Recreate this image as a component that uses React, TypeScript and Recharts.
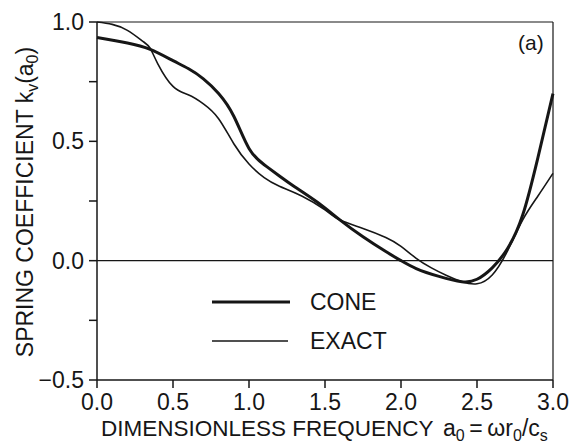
import React from "react";
import { LineChart, Line, XAxis, YAxis, ReferenceLine, Legend } from "recharts";

// dimensionless frequency a0 and spring coefficient kv
const coneFreq = [0, 0.2, 0.35, 0.5, 0.6, 0.7, 0.8, 0.9, 1.0, 1.1, 1.2, 1.3, 1.45, 1.6, 1.75, 1.9, 2.0, 2.1, 2.25, 2.4, 2.5, 2.6, 2.7, 2.8, 2.9, 3.0];
const coneK = [0.935, 0.912, 0.885, 0.838, 0.805, 0.762, 0.7, 0.605, 0.47, 0.402, 0.355, 0.31, 0.245, 0.17, 0.1, 0.038, 0.0, -0.033, -0.066, -0.088, -0.078, -0.03, 0.05, 0.19, 0.43, 0.7];

const exactFreq = [0, 0.1, 0.2, 0.3, 0.35, 0.4, 0.5, 0.6, 0.7, 0.8, 0.9, 1.0, 1.1, 1.2, 1.35, 1.5, 1.6, 1.75, 1.9, 2.0, 2.1, 2.2, 2.3, 2.4, 2.5, 2.6, 2.7, 2.8, 2.9, 3.0];
const exactK = [1.0, 0.99, 0.965, 0.92, 0.89, 0.825, 0.73, 0.695, 0.657, 0.595, 0.49, 0.405, 0.348, 0.312, 0.27, 0.213, 0.17, 0.135, 0.097, 0.06, 0.01, -0.03, -0.062, -0.088, -0.097, -0.06, 0.04, 0.17, 0.27, 0.366];

const xTicks = [0, 0.5, 1, 1.5, 2, 2.5, 3];
const yTicks = [-0.5, -0.25, 0, 0.25, 0.5, 0.75, 1];

const seriesNames = ["CONE", "EXACT"];

const coneData = coneFreq.map((a, i) => ({ a, k: coneK[i] }));
const exactData = exactFreq.map((a, i) => ({ a, k: exactK[i] }));

const FONT = "'Liberation Sans', Arial, Helvetica, sans-serif";
const INK = "#161616";

const fmt = (v: number) => {
  if (Math.abs(v * 2 - Math.round(v * 2)) > 1e-6) return "";
  const s = Math.abs(v).toFixed(1);
  return v < 0 ? "\u2212" + s : s;
};

const XTitle = () => (
  <g fill={INK} fontFamily={FONT} fontSize={22.5}>
    <text x={101} y={436}>DIMENSIONLESS FREQUENCY</text>
    <text x={443} y={436} fontSize={23}>
      a<tspan dy={5} fontSize={16}>0</tspan>
      <tspan dy={-5}>{"\u2009=\u2009ωr"}</tspan>
      <tspan dy={5} fontSize={16}>0</tspan>
      <tspan dy={-5}>/c</tspan>
      <tspan dy={5} fontSize={16}>s</tspan>
    </text>
  </g>
);

const YTitle = () => (
  <text
    x={0}
    y={0}
    transform="translate(33, 202) rotate(-90)"
    textAnchor="middle"
    fill={INK}
    fontFamily={FONT}
    fontSize={23}
  >
    SPRING COEFFICIENT k<tspan dy={5} fontSize={16}>v</tspan>
    <tspan dy={-5}>(a</tspan>
    <tspan dy={5} fontSize={16}>0</tspan>
    <tspan dy={-5}>)</tspan>
  </text>
);

const renderLegend = () => (
  <svg width={200} height={75}>
    <line x1={7} x2={85} y1={17} y2={17} stroke={INK} strokeWidth={3} />
    <text x={105} y={25} fill={INK} fontFamily={FONT} fontSize={23}>{seriesNames[0]}</text>
    <line x1={7} x2={83} y1={56} y2={56} stroke={INK} strokeWidth={1.6} />
    <text x={105} y={64} fill={INK} fontFamily={FONT} fontSize={23}>{seriesNames[1]}</text>
  </svg>
);

const App = () => {
  return (
    <div style={{ position: "absolute", left: 0, top: 0, width: 573, height: 444, background: "#fff" }}>
      <LineChart width={573} height={444} margin={{ top: 22, right: 20, bottom: 0, left: 0 }}>
        <XAxis
          dataKey="a"
          type="number"
          domain={[0, 3]}
          ticks={xTicks}
          interval={0}
          height={64}
          tickSize={8}
          tickMargin={6}
          tickFormatter={fmt}
          stroke={INK}
          strokeWidth={1.5}
          tick={{ fill: INK, fontSize: 23, fontFamily: FONT }}
          label={{ content: () => <XTitle /> }}
        />
        <YAxis
          type="number"
          domain={[-0.5, 1]}
          ticks={yTicks}
          interval={0}
          width={97}
          tickSize={8}
          tickMargin={5}
          tickFormatter={fmt}
          stroke={INK}
          strokeWidth={1.5}
          tick={{ fill: INK, fontSize: 23, fontFamily: FONT }}
          label={{ content: () => <YTitle /> }}
        />
        <ReferenceLine y={0} stroke={INK} strokeWidth={1.2} />
        <ReferenceLine y={1} stroke={INK} strokeWidth={1.2} />
        <ReferenceLine x={3} stroke={INK} strokeWidth={1.2} />
        <Line
          data={coneData}
          dataKey="k"
          name={seriesNames[0]}
          type="natural"
          stroke={INK}
          strokeWidth={3}
          dot={false}
          isAnimationActive={false}
        />
        <Line
          data={exactData}
          dataKey="k"
          name={seriesNames[1]}
          type="natural"
          stroke={INK}
          strokeWidth={1.6}
          dot={false}
          isAnimationActive={false}
        />
        <Legend
          layout="horizontal"
          align="center"
          verticalAlign="middle"
          content={renderLegend}
          wrapperStyle={{ position: "absolute", left: 205, top: 285, width: 200, height: 75 }}
        />
      </LineChart>
      <div
        style={{
          position: "absolute",
          left: 518,
          top: 31,
          fontFamily: FONT,
          fontSize: 21,
          color: INK,
          lineHeight: "24px",
        }}
      >
        (a)
      </div>
    </div>
  );
};

export default App;
